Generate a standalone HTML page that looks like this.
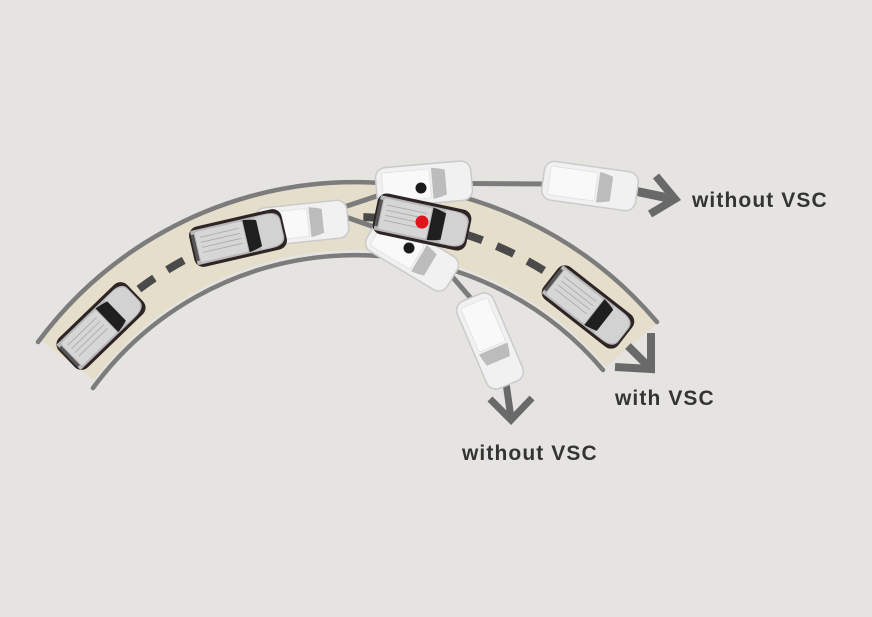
<!DOCTYPE html>
<html>
<head>
<meta charset="utf-8">
<style>
  html,body{margin:0;padding:0;background:#e5e4e1;}
  svg{display:block;}
  .lbl{font-family:"Liberation Sans",Arial,sans-serif;font-weight:bold;font-size:21px;letter-spacing:1.1px;fill:#343434;}
</style>
</head>
<body>
<svg width="872" height="617" viewBox="0 0 872 617" xmlns="http://www.w3.org/2000/svg">
  <defs>
    <g id="dk">
      <rect x="-46" y="-20" width="92" height="40" rx="9" fill="#2e2424"/>
      <path d="M-43,-17 H30 Q44,-17 44,-8 V8 Q44,17 30,17 H-43 Q-44,17 -44,14 V-14 Q-44,-17 -43,-17Z" fill="#b8b8b8"/>
      <path d="M20,-16 H30 Q43,-16 43,-6 V6 Q43,16 30,16 H20Z" fill="#d2d2d2"/>
      <path d="M8,-16 Q15,-15 21,-13 V13 Q15,15 8,16 Z" fill="#1f1f1f"/>
      <rect x="-40" y="-15" width="47" height="30" rx="2" fill="#d6d6d6"/>
      <path d="M-36,-9H3M-36,-4H3M-36,1H3M-36,6H3" stroke="#a9a9a9" stroke-width="0.8"/>
      <rect x="-44" y="-13" width="3" height="26" fill="#555"/>
    </g>
    <g id="wt">
      <rect x="-46" y="-19" width="92" height="38" rx="10" fill="#f1f1f1" stroke="#cbcbcb" stroke-width="1.5"/>
      <path d="M8,-15 Q15,-14 21,-12 V12 Q15,14 8,15Z" fill="#bcbcbc"/>
      <rect x="-40" y="-14" width="46" height="28" rx="2" fill="#f9f9f9" stroke="#e0e0e0" stroke-width="0.8"/>
    </g>
  </defs>

  <rect width="872" height="617" fill="#e5e4e1"/>

  <!-- road band -->
  <path d="M67.5,360.4 A360,360 0 0 1 630.8,345.6" fill="none" stroke="#e4decb" stroke-width="66"/>
  <!-- road edges -->
  <path d="M38,342 A395,395 0 0 1 657,322" fill="none" stroke="#7c7c7c" stroke-width="4.5" stroke-linecap="round"/>
  <path d="M93,388 A325,325 0 0 1 603,370" fill="none" stroke="#7c7c7c" stroke-width="4.5" stroke-linecap="round"/>
  <!-- center dashes -->
  <path d="M138.9,289.1 A360,360 0 0 1 630.8,345.6" fill="none" stroke="#4a4a4a" stroke-width="8" stroke-dasharray="19 15.3"/>

  <!-- trail lines -->
  <path d="M377,183 L548,184" stroke="#7c7c7c" stroke-width="5" fill="none"/>
  <path d="M335,210 L380,195" stroke="#7c7c7c" stroke-width="5" fill="none"/>
  <path d="M343,216 L380,229" stroke="#7c7c7c" stroke-width="5" fill="none"/>
  <path d="M450,274 L474,302" stroke="#7c7c7c" stroke-width="5" fill="none"/>

  <!-- arrows -->
  <g stroke="#696969" fill="none" stroke-linejoin="miter">
    <path d="M630,190 L673,199" stroke-width="9"/>
    <path d="M656,176 L675,199 L650,214" stroke-width="8"/>
    <path d="M628,346 L649,367" stroke-width="8"/>
    <path d="M651,333 L651,369 L615,367" stroke-width="8"/>
    <path d="M506,383 L511,418" stroke-width="7"/>
    <path d="M490,399 L511,420 L532,398" stroke-width="7"/>
  </g>

  <!-- cars -->
  <use href="#dk" transform="translate(101,326) rotate(-44) scale(1.03)"/>
  <use href="#wt" transform="translate(302,223) rotate(-6) scale(1)"/>
  <use href="#dk" transform="translate(238,238) rotate(-13) scale(1.03)"/>
  <use href="#wt" transform="translate(590,186) rotate(8) scale(1.03)"/>
  <use href="#wt" transform="translate(490,341) rotate(67) scale(1.03)"/>
  <use href="#dk" transform="translate(588,307) rotate(38) scale(1.03)"/>

  <use href="#wt" transform="translate(424,184) rotate(-5) scale(1.04)"/>
  <circle cx="421" cy="188" r="5.5" fill="#1a1a1a"/>
  <use href="#wt" transform="translate(412,254) rotate(31) scale(1.02)"/>
  <circle cx="409" cy="248" r="5.5" fill="#1a1a1a"/>
  <use href="#dk" transform="translate(422,222) rotate(12) scale(1.04)"/>
  <circle cx="422" cy="222" r="6.5" fill="#e3121b"/>

  <!-- labels -->
  <text class="lbl" x="692" y="207">without VSC</text>
  <text class="lbl" x="615" y="405">with VSC</text>
  <text class="lbl" x="462" y="460">without VSC</text>
</svg>
</body>
</html>
